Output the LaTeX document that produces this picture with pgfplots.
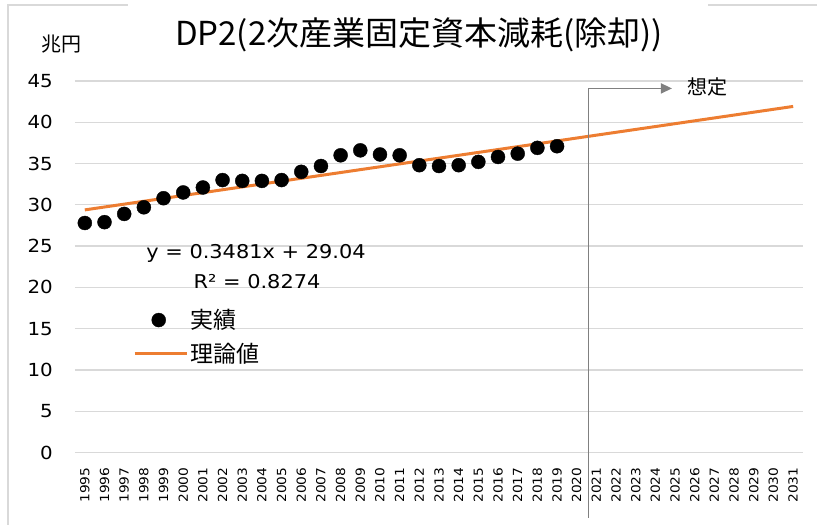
\documentclass[border=0pt]{standalone}
\usepackage{pgfplots}
\pgfplotsset{compat=1.18}
\usetikzlibrary{arrows.meta}
\usepackage{fontspec}
\setmainfont{DejaVu Sans}[FakeStretch=1.1]
\newfontfamily\jp{Noto Sans CJK JP}
\definecolor{exorange}{HTML}{ED7D31}
\definecolor{gridgray}{HTML}{D9D9D9}
\definecolor{linegray}{HTML}{808080}
\pgfplotsset{
  dotlegend/.style={legend image code/.code={\draw[mark repeat=2,mark phase=2,##1] plot coordinates {(0bp,0bp) (24bp,0bp) (52bp,0bp)};}},
  linelegend/.style={legend image code/.code={\draw[##1] (0bp,0bp) -- (52bp,0bp);}},
}
\begin{document}
\begin{tikzpicture}
\useasboundingbox (-75bp,-72.5bp) rectangle (742bp,452.5bp);
% chart border
\draw[gridgray, line width=1.2bp] (-67bp,-72.5bp) -- (-67bp,447.5bp) -- (53bp,447.5bp);
\draw[gridgray, line width=1.2bp] (633bp,447.5bp) -- (742bp,447.5bp);
\begin{axis}[
  at={(0,0)}, anchor=south west,
  scale only axis, width=728bp, height=371.5bp,
  xmin=1994.5, xmax=2031.5, ymin=0, ymax=45,
  xtick={1995,...,2031}, ytick={0,5,...,45},
  /pgf/number format/.cd, 1000 sep={}, assume math mode=true, /pgfplots/.cd,
  axis line style={draw=none},
  major tick length=0pt,
  ymajorgrids, grid style={gridgray, line width=1.3bp},
  yticklabel style={font=\fontsize{18bp}{20bp}\selectfont, anchor=east, inner sep=0pt, xshift=-22bp},
  xticklabel style={font=\fontsize{12.5bp}{14bp}\selectfont, yshift=-15bp, rotate=90, anchor=east, inner sep=0pt},
  clip=false,
  legend style={draw=none, fill=none, at={(0.0797,0.311)}, anchor=west, inner sep=0pt,
    font=\jp\fontsize{23bp}{26bp}\selectfont, row sep=9bp,
    nodes={inner sep=2bp}},
  legend cell align=left,
]
\addplot[only marks, mark=*, mark size=7bp, black, dotlegend]
 coordinates {
(1995,27.8) (1996,27.9) (1997,28.9) (1998,29.7) (1999,30.8)
(2000,31.5) (2001,32.1) (2002,33.0) (2003,32.9) (2004,32.9)
(2005,33.0) (2006,34.0) (2007,34.7) (2008,36.0) (2009,36.6)
(2010,36.1) (2011,36.0) (2012,34.8) (2013,34.7) (2014,34.8)
(2015,35.2) (2016,35.8) (2017,36.2) (2018,36.9) (2019,37.1)
};
\addlegendentry{実績}
\addplot[exorange, line width=3bp, no marks, linelegend]
 coordinates {
(1995,29.388) (1996,29.736) (1997,30.084) (1998,30.432) (1999,30.781)
(2000,31.129) (2001,31.477) (2002,31.825) (2003,32.173) (2004,32.521)
(2005,32.869) (2006,33.217) (2007,33.565) (2008,33.913) (2009,34.262)
(2010,34.610) (2011,34.958) (2012,35.306) (2013,35.654) (2014,36.002)
(2015,36.350) (2016,36.698) (2017,37.046) (2018,37.394) (2019,37.743)
(2020,38.091) (2021,38.439) (2022,38.787) (2023,39.135) (2024,39.483)
(2025,39.831) (2026,40.179) (2027,40.527) (2028,40.875) (2029,41.224)
(2030,41.572) (2031,41.920)
};
\addlegendentry{理論値}
% forecast marker line and arrow
\draw[linegray, line width=1.5bp] (axis cs:2020.6,-7.93) -- (axis cs:2020.6,44.1);
\draw[linegray, line width=1.5bp, -{Triangle[length=11bp,width=10bp]}] (axis cs:2020.6,44.1) -- (axis cs:2024.84,44.1);
\end{axis}
% texts
\node at (344bp,417.5bp) {\jp\fontsize{33bp}{36bp}\selectfont DP2(2次産業固定資本減耗(除却))};
\node at (-14bp,408.5bp) {\jp\fontsize{20bp}{22bp}\selectfont 兆円};
\node at (632bp,365.5bp) {\jp\fontsize{20bp}{22bp}\selectfont 想定};
\node at (181bp,199.5bp) {\fontsize{19bp}{21bp}\selectfont y = 0.3481x + 29.04};
\node at (182bp,170.5bp) {\fontsize{19bp}{21bp}\selectfont R² = 0.8274};
\end{tikzpicture}
\end{document}
